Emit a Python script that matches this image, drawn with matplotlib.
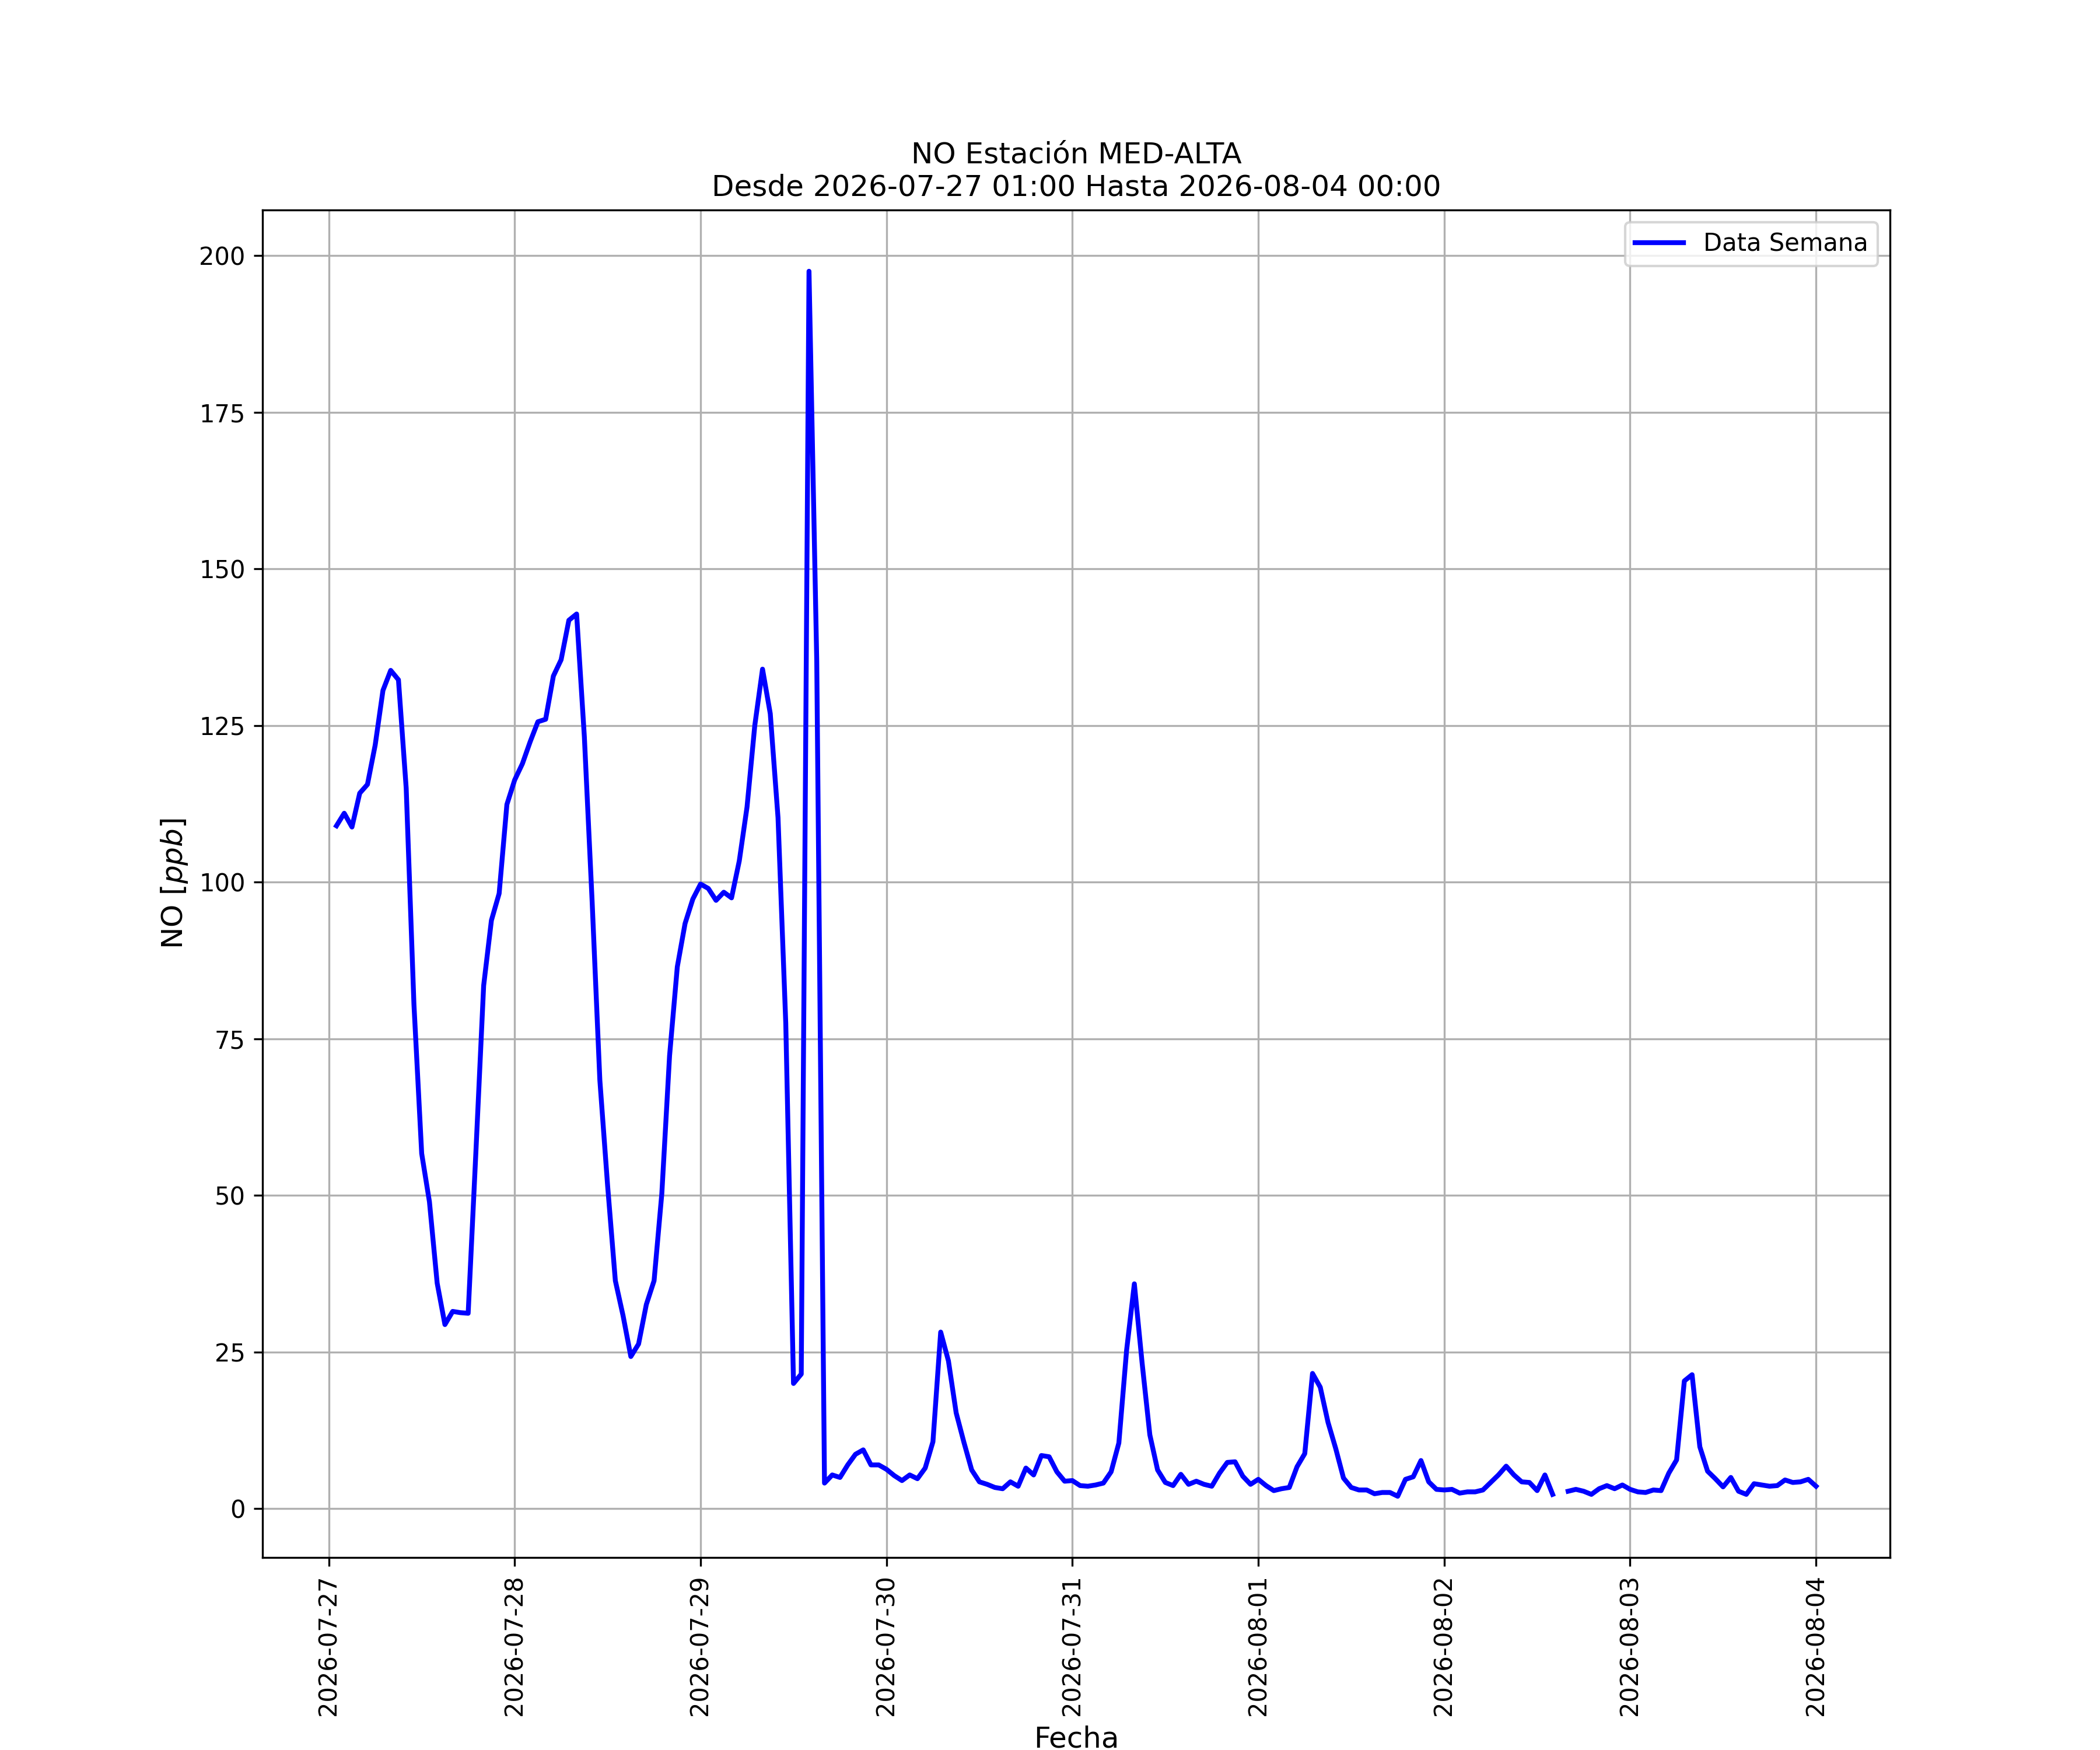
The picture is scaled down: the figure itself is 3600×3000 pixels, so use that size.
import numpy as np
import pandas as pd
import matplotlib
matplotlib.use('Agg')
import matplotlib.pyplot as plt
import matplotlib.dates as mdates

# hourly NO readings [ppb], one list per day (01:00 .. 00:00 next day)
day_0727 = [109, 111, 108.8, 114.2, 115.6, 121.9, 130.6, 133.8, 132.3, 115, 80.5, 56.7,
            49, 36, 29.4, 31.5, 31.3, 31.2, 57, 83.5, 93.9, 98.2, 112.4, 116.3]
day_0728 = [118.9, 122.4, 125.6, 126, 132.9, 135.5, 141.8, 142.8, 123.2, 97, 68.4, 51.6,
            36.4, 30.8, 24.3, 26.3, 32.6, 36.4, 50.3, 72.3, 86.5, 93.4, 97.3, 99.7]
day_0729 = [99, 97.1, 98.4, 97.5, 103.4, 112, 125, 134, 126.9, 110.3, 77.5, 20,
            21.5, 197.5, 135.3, 4.1, 5.4, 5.0, 7.0, 8.7, 9.4, 7.0, 7.0, 6.3]
day_0730 = [5.3, 4.5, 5.4, 4.8, 6.5, 10.7, 28.2, 23.6, 15.3, 10.6, 6.2, 4.3,
            3.9, 3.4, 3.2, 4.3, 3.6, 6.5, 5.4, 8.5, 8.3, 5.9, 4.4, 4.5]
day_0731 = [3.7, 3.6, 3.8, 4.1, 5.9, 10.5, 25.3, 35.9, 23.3, 11.8, 6.2, 4.2,
            3.7, 5.5, 3.9, 4.4, 3.9, 3.6, 5.7, 7.4, 7.5, 5.2, 3.9, 4.7]
day_0801 = [3.7, 2.9, 3.2, 3.4, 6.7, 8.8, 21.6, 19.4, 13.8, 9.6, 4.9, 3.4,
            3.0, 3.0, 2.4, 2.6, 2.6, 2.0, 4.7, 5.1, 7.7, 4.3, 3.1, 3.0]
day_0802 = [3.1, 2.5, 2.7, 2.7, 3.0, 4.2, 5.4, 6.8, 5.4, 4.3, 4.2, 2.9,
            5.4, 2.3, np.nan, 2.8, 3.1, 2.8, 2.3, 3.2, 3.7, 3.2, 3.8, 3.1]
day_0803 = [2.7, 2.6, 3.0, 2.9, 5.7, 7.8, 20.4, 21.4, 9.9, 6.0, 4.8, 3.5,
            5.0, 2.8, 2.3, 4.0, 3.8, 3.6, 3.7, 4.6, 4.2, 4.3, 4.7, 3.6]

start = '2026-07-27 01:00'
end = '2026-08-04 00:00'
station = 'MED-ALTA'

values = (day_0727 + day_0728 + day_0729 + day_0730 +
          day_0731 + day_0801 + day_0802 + day_0803)
fechas = pd.date_range(start, periods=len(values), freq='h')

fig, ax = plt.subplots(figsize=(12, 10), dpi=300)
ax.plot(fechas, values, color='blue', linewidth=2, label='Data Semana')

ax.xaxis.set_major_locator(mdates.DayLocator())
ax.xaxis.set_major_formatter(mdates.DateFormatter('%Y-%m-%d'))
plt.xticks(rotation=90)

ax.set_xlabel('Fecha', fontsize=12)
ax.set_ylabel('NO [$ppb$]', fontsize=12)
ax.set_title(f'NO Estación {station}\nDesde {start} Hasta {end}', fontsize=12)
ax.grid(True)
ax.legend(loc='upper right')

fig.savefig('out.png', dpi=300)
plt.close(fig)
